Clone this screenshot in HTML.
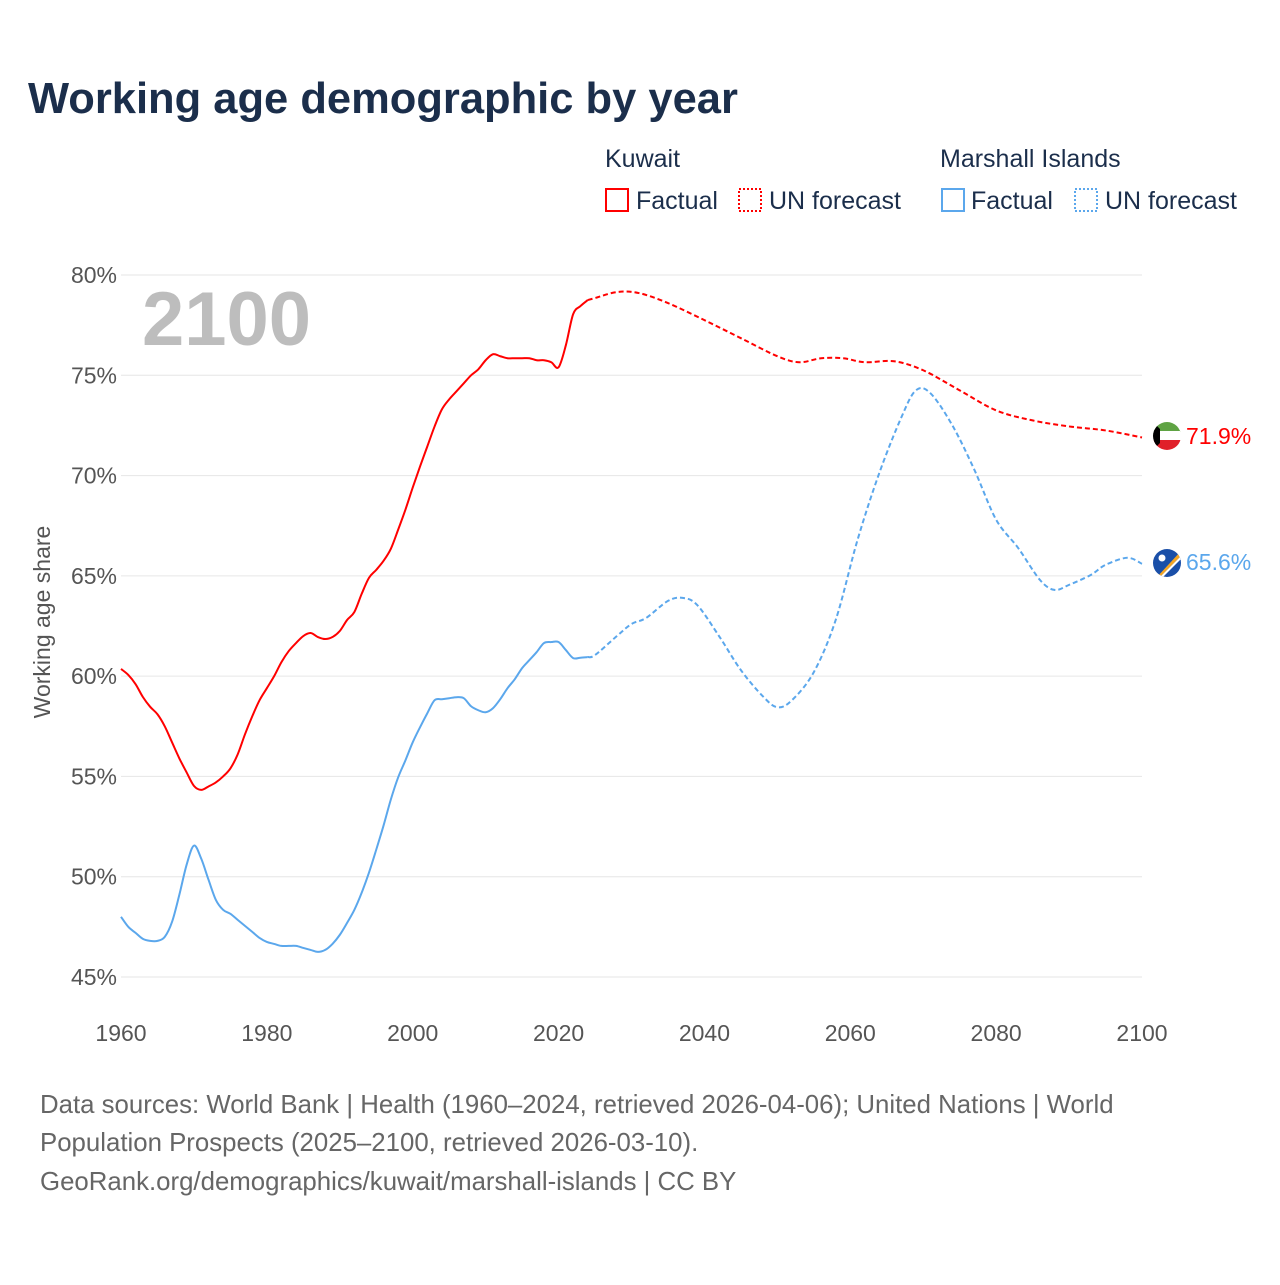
<!DOCTYPE html>
<html><head><meta charset="utf-8"><style>
body{margin:0;background:#fff;font-family:"Liberation Sans",sans-serif;}
svg text{font-family:"Liberation Sans",sans-serif;}
</style></head><body>
<svg id="chart" width="1280" height="1280" viewBox="0 0 1280 1280">
<text x="28" y="113" font-size="43.5" font-weight="bold" fill="#1b2e4b">Working age demographic by year</text>
<g>
<text x="605" y="167" font-size="25" fill="#1b2e4b">Kuwait</text>
<rect x="606" y="189" width="22" height="22" fill="none" stroke="#f00" stroke-width="2"/>
<text x="636" y="209" font-size="25" fill="#1b2e4b">Factual</text>
<rect x="739" y="189" width="22" height="22" fill="none" stroke="#f00" stroke-width="2" stroke-dasharray="2 2"/>
<text x="769" y="209" font-size="25" fill="#1b2e4b">UN forecast</text>
<text x="940" y="167" font-size="25" fill="#1b2e4b">Marshall Islands</text>
<rect x="942" y="189" width="22" height="22" fill="none" stroke="#5ba7ec" stroke-width="2"/>
<text x="971" y="209" font-size="25" fill="#1b2e4b">Factual</text>
<rect x="1075" y="189" width="22" height="22" fill="none" stroke="#5ba7ec" stroke-width="2" stroke-dasharray="2 2"/>
<text x="1105" y="209" font-size="25" fill="#1b2e4b">UN forecast</text>
</g>
<text x="142" y="345" font-size="76" font-weight="bold" fill="#bdbdbd">2100</text>
<text transform="translate(50,622) rotate(-90)" text-anchor="middle" font-size="23" fill="#555">Working age share</text>
<g id="grid"></g><g id="lines"></g>
<g>
<clipPath id="c1"><circle cx="1167" cy="436" r="14"/></clipPath>
<g clip-path="url(#c1)"><rect x="1153" y="422" width="28" height="10" fill="#5fa343"/><rect x="1153" y="431" width="28" height="10" fill="#fff"/><rect x="1153" y="440" width="28" height="10" fill="#e0202a"/><polygon points="1153,422 1160,429 1160,443 1153,450" fill="#000"/></g>
</g>
<g>
<clipPath id="c2"><circle cx="1167" cy="563" r="14"/></clipPath>
<g clip-path="url(#c2)"><rect x="1153" y="549" width="28" height="28" fill="#1a4fa8"/><polygon points="1157,577 1181,551 1181,556 1160,577" fill="#f5a623"/><polygon points="1160,577 1181,556 1181,559 1163,577" fill="#fff"/><circle cx="1162" cy="558" r="3.5" fill="#fff"/></g>
</g>
<text x="1186" y="444" font-size="23" fill="#f00">71.9%</text>
<text x="1186" y="570" font-size="23" fill="#5ba7ec">65.6%</text>
<g font-size="25.8" fill="#666">
<text x="40" y="1113">Data sources: World Bank | Health (1960–2024, retrieved 2026-04-06); United Nations | World</text>
<text x="40" y="1151">Population Prospects (2025–2100, retrieved 2026-03-10).</text>
<text x="40" y="1190">GeoRank.org/demographics/kuwait/marshall-islands | CC BY</text>
</g>
</svg>
<script>
const yTicks=[45,50,55,60,65,70,75,80];
const xTicks=[1960,1980,2000,2020,2040,2060,2080,2100];
const kuwaitYears=[1960,1961,1962,1963,1964,1965,1966,1967,1968,1969,1970,1971,1972,1973,1974,1975,1976,1977,1978,1979,1980,1981,1982,1983,1984,1985,1986,1987,1988,1989,1990,1991,1992,1993,1994,1995,1996,1997,1998,1999,2000,2001,2002,2003,2004,2005,2006,2007,2008,2009,2010,2011,2012,2013,2014,2015,2016,2017,2018,2019,2020,2021,2022,2023,2024];
const kuwaitValues=[60.36,60.06,59.6,58.96,58.47,58.1,57.5,56.7,55.9,55.2,54.53,54.33,54.5,54.7,55.0,55.4,56.1,57.1,58.0,58.8,59.4,60.0,60.7,61.25,61.65,62.0,62.15,61.95,61.85,61.95,62.25,62.8,63.2,64.1,64.9,65.3,65.75,66.35,67.3,68.3,69.4,70.45,71.45,72.45,73.3,73.8,74.2,74.6,75.0,75.3,75.75,76.05,75.95,75.85,75.85,75.85,75.85,75.75,75.75,75.65,75.4,76.5,78.05,78.45,78.75];
const kuwaitFcYears=[2024,2025,2028,2031,2035,2040,2045,2050,2053,2056,2059,2062,2066,2070,2075,2080,2085,2090,2095,2100];
const kuwaitFcValues=[78.75,78.85,79.15,79.1,78.6,77.75,76.85,75.95,75.65,75.85,75.85,75.65,75.7,75.25,74.25,73.25,72.75,72.45,72.25,71.9];
const marshallYears=kuwaitYears;
const marshallValues=[48.0,47.5,47.2,46.9,46.8,46.8,47.0,47.75,49.1,50.6,51.55,50.9,49.85,48.85,48.35,48.15,47.85,47.55,47.25,46.95,46.75,46.65,46.55,46.55,46.55,46.45,46.35,46.25,46.35,46.65,47.1,47.7,48.35,49.2,50.2,51.35,52.55,53.85,54.95,55.8,56.7,57.45,58.15,58.8,58.85,58.9,58.95,58.9,58.5,58.3,58.2,58.4,58.85,59.4,59.85,60.4,60.8,61.2,61.65,61.7,61.7,61.3,60.9,60.92,60.95];
const marshallFcYears=[2024,2025,2028,2030,2032,2035,2037,2039,2042,2045,2048,2050,2052,2055,2058,2061,2064,2067,2069,2071,2074,2077,2080,2083,2086,2088,2090,2093,2095,2098,2100];
const marshallFcValues=[60.95,61.05,62.0,62.6,62.9,63.75,63.9,63.55,62.0,60.3,59.0,58.45,58.8,60.2,62.8,66.8,70.15,72.9,74.25,74.1,72.5,70.3,67.8,66.4,64.8,64.3,64.55,65.05,65.55,65.9,65.6];
const NS="http://www.w3.org/2000/svg";
const X=y=>121+(y-1960)*(1142-121)/140;
const Y=v=>977-(v-45)*(977-275)/35;
const grid=document.getElementById('grid'),lines=document.getElementById('lines');
yTicks.forEach(t=>{
 const l=document.createElementNS(NS,'line');
 l.setAttribute('x1',121);l.setAttribute('x2',1142);l.setAttribute('y1',Y(t));l.setAttribute('y2',Y(t));
 l.setAttribute('stroke','#e6e6e6');l.setAttribute('stroke-width','1');
 
 
 grid.appendChild(l);
 const tx=document.createElementNS(NS,'text');
 tx.setAttribute('x',117);tx.setAttribute('y',Y(t)+8);tx.setAttribute('text-anchor','end');
 tx.setAttribute('font-size','23');tx.setAttribute('fill','#555');tx.textContent=t+'%';
 
 
 grid.appendChild(tx);
});
xTicks.forEach(t=>{
 const tx=document.createElementNS(NS,'text');
 tx.setAttribute('x',X(t));tx.setAttribute('y',1041);tx.setAttribute('text-anchor','middle');
 tx.setAttribute('font-size','23');tx.setAttribute('fill','#555');tx.textContent=t;
 
 
 grid.appendChild(tx);
});
function smooth(xs,vs){
 const p=xs.map((x,i)=>[X(x),Y(vs[i])]);
 let d='M'+p[0][0]+','+p[0][1];
 for(let i=0;i<p.length-1;i++){
  const p0=p[i-1]||p[i],p1=p[i],p2=p[i+1],p3=p[i+2]||p2;
  const c1=[p1[0]+(p2[0]-p0[0])/6,p1[1]+(p2[1]-p0[1])/6];
  const c2=[p2[0]-(p3[0]-p1[0])/6,p2[1]-(p3[1]-p1[1])/6];
  d+=' C'+c1+' '+c2+' '+p2;
 }
 return d;
}
function line(xs,vs,color,dash,name){
 const p=document.createElementNS(NS,'path');
 p.setAttribute('d',smooth(xs,vs));p.setAttribute('fill','none');
 p.setAttribute('stroke',color);p.setAttribute('stroke-width','2');
 if(dash)p.setAttribute('stroke-dasharray',dash);
 
 
 lines.appendChild(p);
}
line(marshallYears,marshallValues,'#5ba7ec',null,'marshall-factual-line');
line(marshallFcYears,marshallFcValues,'#5ba7ec','5 3','marshall-forecast-line');
line(kuwaitYears,kuwaitValues,'#f00',null,'kuwait-factual-line');
line(kuwaitFcYears,kuwaitFcValues,'#f00','5 3','kuwait-forecast-line');
</script>
</body></html>
